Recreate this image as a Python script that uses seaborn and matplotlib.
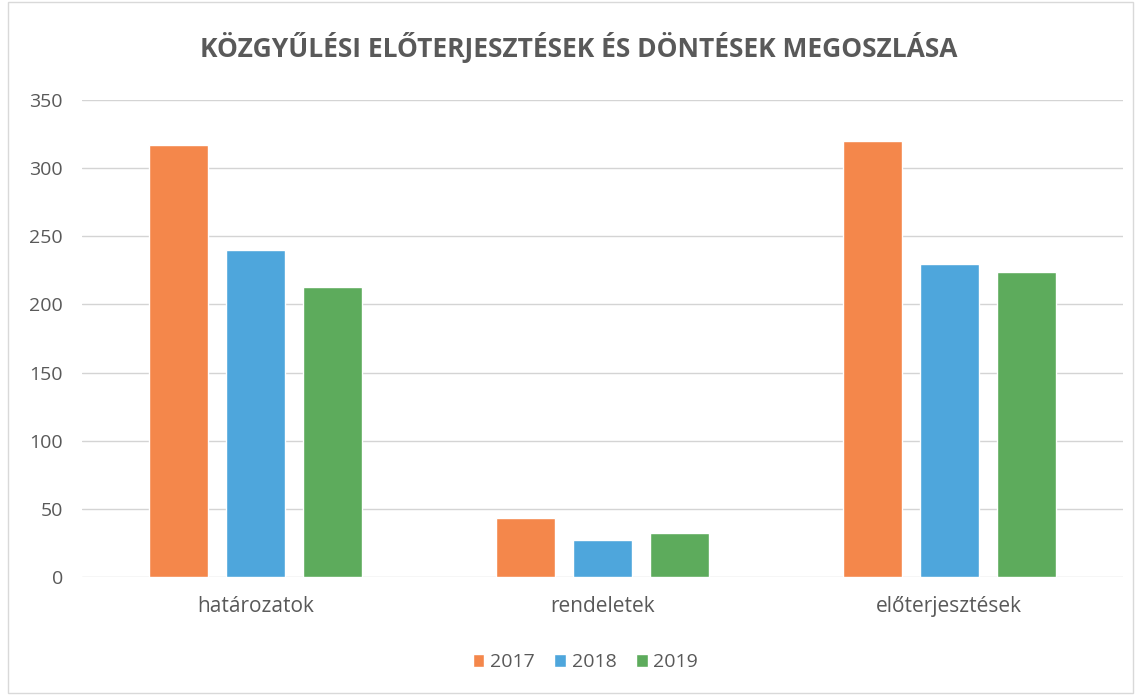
import pandas as pd
import matplotlib.pyplot as plt
import seaborn as sns
from matplotlib.patches import Rectangle

# Data
categories = ['határozatok', 'rendeletek', 'előterjesztések']
years = ['2017', '2018', '2019']
values_2017 = [317, 43, 320]
values_2018 = [240, 27, 230]
values_2019 = [213, 32, 224]

colors = ['#F4874B', '#4EA6DC', '#5DAB5C']
text_color = '#595959'

df = pd.DataFrame({
    'kategoria': categories * 3,
    'ev': [years[0]] * 3 + [years[1]] * 3 + [years[2]] * 3,
    'ertek': values_2017 + values_2018 + values_2019,
})

sns.set_style('white')
plt.rcParams['font.family'] = ['Open Sans', 'DejaVu Sans']

fig = plt.figure(figsize=(11.41, 6.95), dpi=100)
ax = fig.add_axes([0.0723, 0.1698, 0.9115, 0.6863])

sns.barplot(data=df, x='kategoria', y='ertek', hue='ev', palette=colors,
            width=0.666, gap=0.23, saturation=1, ax=ax, legend=True)

ax.set_ylim(0, 350)
ax.set_yticks(range(0, 351, 50))
ax.yaxis.grid(True, color='#D4D4D4', linewidth=1)
ax.set_axisbelow(True)
for s in ax.spines.values():
    s.set_visible(False)
ax.set_xlabel('')
ax.set_ylabel('')
ax.tick_params(axis='y', length=0, pad=14, labelsize=14, labelcolor=text_color)
ax.tick_params(axis='x', length=0, pad=14, labelsize=15, labelcolor=text_color)

fig.text(0.507, 0.931, 'KÖZGYŰLÉSI ELŐTERJESZTÉSEK ÉS DÖNTÉSEK MEGOSZLÁSA',
         ha='center', va='center', fontsize=19, fontweight='bold', color=text_color)

leg = ax.legend(loc='center', bbox_to_anchor=(0.513, 0.047), bbox_transform=fig.transFigure,
                ncol=3, frameon=False, fontsize=14, handlelength=0.6, handleheight=0.6,
                handletextpad=0.3, columnspacing=1.0)
for t in leg.get_texts():
    t.set_color(text_color)

# light chart border like the original
fig.patches.append(Rectangle((0.007, 0.003), 0.986, 0.994, transform=fig.transFigure,
                             fill=False, edgecolor='#D9D9D9', linewidth=1))

fig.savefig('out.png', dpi=100)
